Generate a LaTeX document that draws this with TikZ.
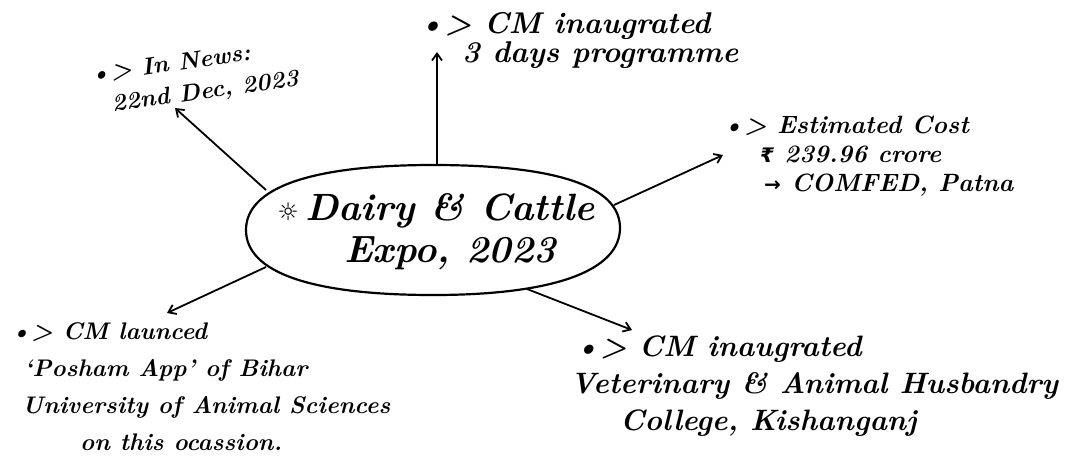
\documentclass[tikz,border=0pt]{standalone}
\usepackage{fontspec}
\newfontfamily\symf{DejaVu Sans}
\usetikzlibrary{arrows.meta}
\begin{document}
\begin{tikzpicture}[x=1pt,y=-1pt,
  hw/.style={anchor=north west,inner sep=0pt,align=left},
  conn/.style={line width=1.8pt,-{Straight Barb[length=7pt,width=10pt,line width=1.8pt]}},
  hubline/.style={line width=2.2pt}]
\useasboundingbox[fill=white] (0,0) rectangle (1089,466);

% hub outline (hand-drawn, fuller than an ellipse)
\draw[hubline] (620,228) .. controls (620,186) and (556,165) .. (433,165)
  .. controls (310,165) and (246,188) .. (246,230)
  .. controls (246,272) and (310,295) .. (433,295)
  .. controls (556,295) and (620,270) .. cycle;
\node[inner sep=0pt,align=center,font=\bfseries\itshape\fontsize{38}{42}\selectfont] (c) at (436,232) {{\symf\fontsize{24}{24}\selectfont ☼}\,Dairy \& Cattle\\ \hspace*{28pt}Expo, 2023};

\coordinate (h1) at (266,190);
\coordinate (h2) at (437,165);
\coordinate (h3) at (614,205);
\coordinate (h4) at (266,267);
\coordinate (h5) at (527,289);

\node[hw,rotate=8,font=\bfseries\itshape\fontsize{24}{32}\selectfont] (news) at (88,66) {\textbullet> In News:\\ \hspace*{18pt}22nd Dec, 2023};
\node[hw,font=\bfseries\itshape\fontsize{30}{29}\selectfont] (days) at (418,12) {\textbullet> CM inaugrated\\ \hspace*{44pt}3 days programme};
\node[hw,font=\bfseries\itshape\fontsize{25}{29}\selectfont] (cost) at (722,116) {\textbullet> Estimated Cost\\ \hspace*{38pt}{\symf\fontsize{20}{20}\selectfont ₹} 239.96 crore\\ \hspace*{42pt}{\symf\fontsize{20}{20}\selectfont →} COMFED, Patna};
\node[hw,font=\bfseries\itshape\fontsize{24}{37}\selectfont] (app) at (10,322) {\textbullet> CM launced\\ \hspace*{14pt}‘Posham App’ of Bihar\\ \hspace*{12pt}University of Animal Sciences\\ \hspace*{70pt}on this ocassion.};
\node[hw,font=\bfseries\itshape\fontsize{29.5}{37}\selectfont] (college) at (570,336) {\hspace*{4pt}\textbullet> CM inaugrated\\ Veterinary \& Animal Husbandry\\ \hspace*{50pt}College, Kishanganj};

\coordinate (tnews) at (175,108);
\coordinate (tdays) at (437,52);
\coordinate (tcost) at (723,155);
\coordinate (tapp) at (167,313);
\coordinate (tcol) at (632,330);

\draw[conn] (h1) -- (tnews);
\draw[conn] (h2) -- (tdays);
\draw[conn] (h3) -- (tcost);
\draw[conn] (h4) -- (tapp);
\draw[conn] (h5) -- (tcol);
\end{tikzpicture}
\end{document}
